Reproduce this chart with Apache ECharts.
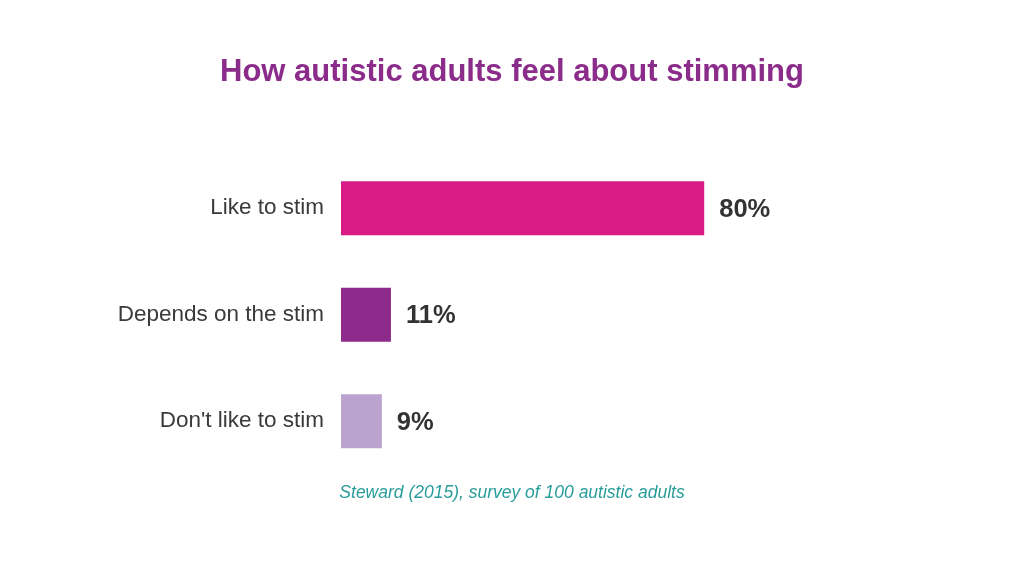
<!DOCTYPE html>
<html><head><meta charset="utf-8">
<script src="https://cdn.jsdelivr.net/npm/echarts@6/dist/echarts.min.js"></script>
<style>html,body{margin:0;padding:0;background:#fff}#c{width:1024px;height:576px}</style>
</head><body><div id="c"></div>
<script>
const categories = ["Like to stim", "Depends on the stim", "Don't like to stim"];
const values = [80, 11, 9];
const colors = ["#D81B85", "#8E2A8C", "#BBA3D0"];
const titleText = "How autistic adults feel about stimming";
const sourceText = "Steward (2015), survey of 100 autistic adults";

const chart = echarts.init(document.getElementById('c'));
chart.setOption({
  backgroundColor: '#ffffff',
  animation: false,
  title: [
    { text: titleText, left: 'center', top: 52,
      textStyle: { fontFamily: 'Liberation Sans', fontSize: 31, fontWeight: 'bold', color: '#8B2C8A' } },
    { text: sourceText, left: 'center', top: 479,
      textStyle: { fontFamily: 'Liberation Sans', fontSize: 17.5, fontWeight: 'normal', fontStyle: 'italic', color: '#2A9D9B' } }
  ],
  grid: { left: 341, width: 454, top: 155, height: 319.5 },
  xAxis: { type: 'value', min: 0, max: 100, show: false },
  yAxis: {
    type: 'category', data: categories, inverse: true,
    axisLine: { show: false }, axisTick: { show: false },
    axisLabel: { fontFamily: 'Liberation Sans', fontSize: 22.5, color: '#3a3a3a', margin: 17, padding: [3, 0, 0, 0] }
  },
  series: [{
    type: 'bar', barWidth: 54,
    data: values.map((v, i) => ({ value: v, itemStyle: { color: colors[i] } })),
    label: { show: true, position: 'right', distance: 15, formatter: '{c}%', offset: [0, 1.5],
      fontFamily: 'Liberation Sans', fontSize: 25.5, fontWeight: 'bold', color: '#333333' }
  }]
});
</script></body></html>
